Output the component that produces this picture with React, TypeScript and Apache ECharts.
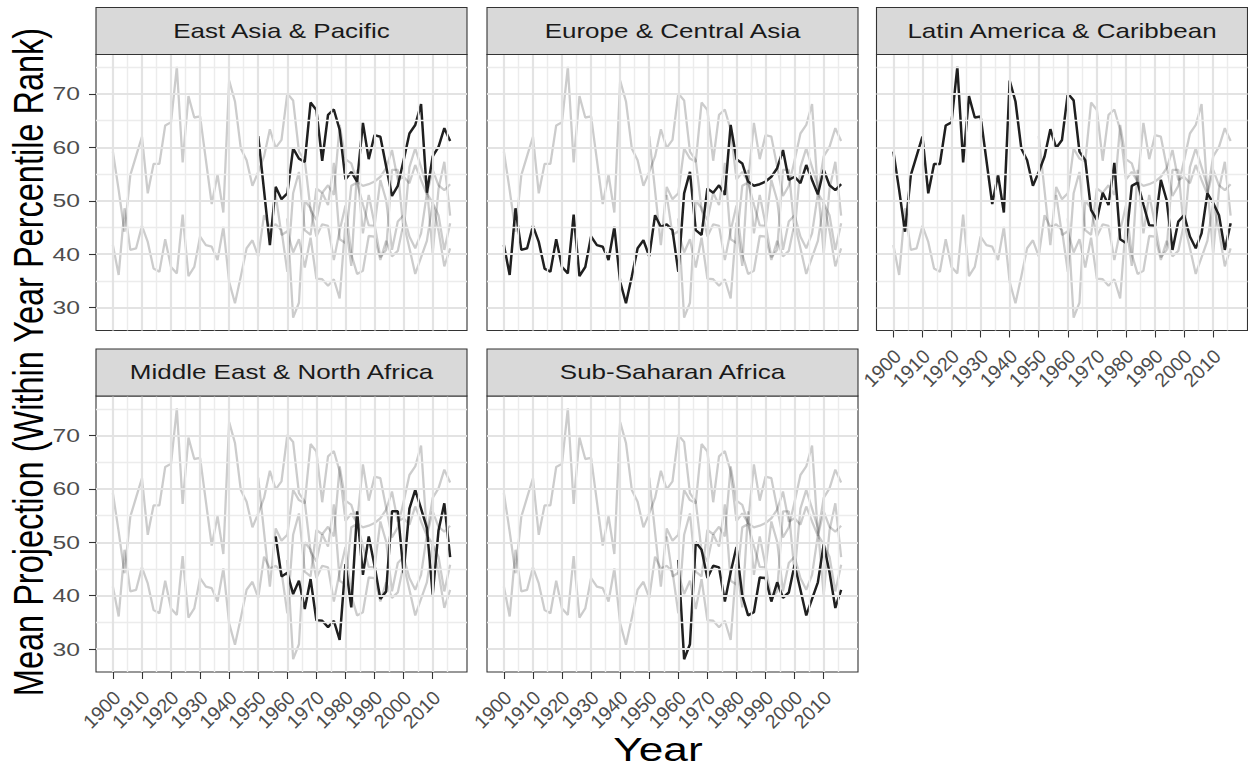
import { useEffect, useRef } from "react";
import * as echarts from "echarts";

// Observation years (every second year)
const years = [
  1900, 1902, 1904, 1906, 1908, 1910, 1912, 1914, 1916, 1918,
  1920, 1922, 1924, 1926, 1928, 1930, 1932, 1934, 1936, 1938,
  1940, 1942, 1944, 1946, 1948, 1950, 1952, 1954, 1956, 1958,
  1960, 1962, 1964, 1966, 1968, 1970, 1972, 1974, 1976, 1978,
  1980, 1982, 1984, 1986, 1988, 1990, 1992, 1994, 1996, 1998,
  2000, 2002, 2004, 2006, 2008, 2010, 2012, 2014, 2016,
];

const regions = [
  "East Asia & Pacific",
  "Europe & Central Asia",
  "Latin America & Caribbean",
  "Middle East & North Africa",
  "Sub-Saharan Africa",
];

// Each series runs up to 2016; shorter series start later.
const eastAsia = [
  62.1, 51.9, 41.7, 52.6, 50.3, 51.4, 59.8, 57.9, 57.3, 68.4,
  67.0, 57.5, 66.1, 67.1, 63.3, 54.0, 55.4, 53.6, 64.6, 57.8,
  62.3, 62.0, 56.4, 50.9, 52.8, 57.6, 62.6, 64.2, 68.1, 51.5,
  58.3, 60.1, 63.6, 61.2,
];
const europe = [
  41.7, 36.1, 48.6, 40.8, 41.1, 45.3, 42.3, 37.3, 36.7, 42.8,
  37.6, 36.4, 47.4, 35.9, 37.6, 43.3, 41.7, 41.4, 38.9, 45.1,
  34.8, 30.8, 35.8, 41.1, 42.6, 39.6, 47.3, 45.1, 45.6, 44.5,
  36.7, 51.4, 55.4, 44.5, 43.6, 52.3, 51.5, 52.9, 51.1, 64.2,
  57.8, 57.0, 53.6, 52.8, 53.1, 53.6, 54.5, 56.1, 59.5, 53.9,
  54.5, 53.3, 56.7, 53.9, 51.2, 55.8, 52.9, 52.0, 53.1,
];
const latinAmerica = [
  59.2, 52.0, 44.2, 54.8, 58.4, 62.0, 51.4, 56.9, 56.9, 64.1,
  64.7, 75.1, 57.2, 69.6, 65.6, 65.8, 57.6, 49.4, 54.9, 47.8,
  72.5, 68.6, 59.8, 57.6, 52.8, 55.4, 58.3, 63.4, 59.9, 61.4,
  70.1, 68.8, 59.2, 57.6, 48.3, 46.4, 51.5, 49.2, 57.1, 42.8,
  42.1, 52.8, 53.4, 49.3, 45.4, 45.3, 53.9, 50.1, 40.8, 46.1,
  47.3, 43.3, 41.1, 43.9, 51.4, 49.6, 47.3, 40.8, 45.8,
];
const middleEast = [
  51.1, 43.6, 44.3, 40.3, 42.8, 37.5, 43.1, 35.4, 35.3, 34.1,
  35.3, 31.7, 45.9, 37.8, 55.8, 43.9, 51.1, 45.6, 39.4, 40.8,
  55.8, 55.8, 44.2, 56.3, 59.8, 56.3, 52.7, 40.2, 52.2, 57.3,
  47.2,
];
const subSaharan = [
  46.7, 28.1, 30.9, 50.0, 48.6, 43.3, 45.6, 45.3, 38.9, 44.4,
  49.1, 40.0, 36.3, 36.9, 43.4, 43.3, 38.9, 42.5, 39.6, 40.6,
  45.8, 41.1, 36.3, 39.4, 42.5, 49.6, 44.4, 37.7, 41.1,
];
const regionValues = [eastAsia, europe, latinAmerica, middleEast, subSaharan];

// Axis breaks
const xMajor = [1900, 1910, 1920, 1930, 1940, 1950, 1960, 1970, 1980, 1990, 2000, 2010];
const xMinor = [1905, 1915, 1925, 1935, 1945, 1955, 1965, 1975, 1985, 1995, 2005, 2015];
const yMajor = [30, 40, 50, 60, 70];
const yMinor = [35, 45, 55, 65, 75];

const X_MIN = 1894.2;
const X_MAX = 2021.8;
const Y_MIN = 25.7;
const Y_MAX = 77.4;

// Facet layout
const COL_LEFT = [96, 487, 876.5];
const ROW_TOP = [54.5, 396];
const PANEL_W = 371;
const PANEL_H = 276;
const STRIP_H = 47;
const TICK_LEN = 7;
// Glyphs are drawn a little wider than tall
const TEXT_STRETCH = 1.3;

const FONT = "'Liberation Sans', Arial, Helvetica, sans-serif";

const toPoints = (vals: number[]) =>
  vals.map((v, i) => [years[years.length - vals.length + i], v]);

const panelPos = (p: number) => {
  const col = p % 3;
  const row = Math.floor(p / 3);
  return {
    left: COL_LEFT[col],
    top: ROW_TOP[row],
    showX: row === 1 || col === 2,
    showY: col === 0,
  };
};

function buildOption() {
  const grids: any[] = [];
  const xAxes: any[] = [];
  const yAxes: any[] = [];
  const series: any[] = [];

  regions.forEach((name, p) => {
    const { left, top, showX, showY } = panelPos(p);

    grids.push({
      left,
      top,
      width: PANEL_W,
      height: PANEL_H,
      show: true,
      backgroundColor: "#ffffff",
      borderColor: "#333333",
      borderWidth: 1.1,
      z: 0,
    });

    xAxes.push({
      type: "value",
      gridIndex: p,
      min: X_MIN,
      max: X_MAX,
      axisLine: { show: false },
      splitLine: { show: false },
      axisTick: {
        show: showX,
        length: TICK_LEN,
        customValues: xMajor,
        lineStyle: { color: "#333333", width: 1.1 },
      },
      axisLabel: { show: false },
    });

    yAxes.push({
      type: "value",
      gridIndex: p,
      min: Y_MIN,
      max: Y_MAX,
      axisLine: { show: false },
      splitLine: { show: false },
      axisTick: {
        show: showY,
        length: TICK_LEN,
        customValues: yMajor,
        lineStyle: { color: "#333333", width: 1.1 },
      },
      axisLabel: { show: false },
    });

    // Panel grid lines drawn on the panel's own scales
    const major = { color: "#e3e3e3", width: 2.2, type: "solid" };
    const minor = { color: "#ececec", width: 1.4, type: "solid" };
    series.push({
      type: "line",
      xAxisIndex: p,
      yAxisIndex: p,
      data: [],
      silent: true,
      z: 1,
      markLine: {
        silent: true,
        symbol: ["none", "none"],
        label: { show: false },
        animation: false,
        data: [
          ...xMinor.map((x) => ({ xAxis: x, lineStyle: minor })),
          ...yMinor.map((y) => ({ yAxis: y, lineStyle: minor })),
          ...xMajor.map((x) => ({ xAxis: x, lineStyle: major })),
          ...yMajor.map((y) => ({ yAxis: y, lineStyle: major })),
        ],
      },
    });

    // Other regions in grey
    regionValues.forEach((vals, r) => {
      if (r === p) return;
      series.push({
        type: "line",
        name: regions[r],
        xAxisIndex: p,
        yAxisIndex: p,
        data: toPoints(vals),
        showSymbol: false,
        symbol: "none",
        silent: true,
        z: 2,
        lineStyle: { color: "rgba(0,0,0,0.2)", width: 2.3 },
      });
    });

    // Highlighted region
    series.push({
      type: "line",
      name,
      xAxisIndex: p,
      yAxisIndex: p,
      data: toPoints(regionValues[p]),
      showSymbol: false,
      symbol: "none",
      silent: true,
      z: 3,
      lineStyle: { color: "#1f1f1f", width: 2.5 },
    });
  });

  return {
    animation: false,
    backgroundColor: "#ffffff",
    grid: grids,
    xAxis: xAxes,
    yAxis: yAxes,
    series,
  };
}

// Strips, titles and tick labels; tick labels are placed with the axes' own scales
function buildGraphics(chart: echarts.ECharts) {
  const graphics: any[] = [];
  const tickColor = "#4d4d4d";

  regions.forEach((name, p) => {
    const { left, top, showX, showY } = panelPos(p);

    graphics.push({
      type: "rect",
      shape: { x: left, y: top - STRIP_H, width: PANEL_W, height: STRIP_H },
      style: { fill: "#d9d9d9", stroke: "#333333", lineWidth: 1.1 },
      z: 10,
    });
    graphics.push({
      type: "text",
      x: left + PANEL_W / 2,
      y: top - STRIP_H / 2,
      scaleX: TEXT_STRETCH,
      style: {
        text: name,
        textAlign: "center",
        textVerticalAlign: "middle",
        fontSize: 20,
        fontFamily: FONT,
        fill: "#1a1a1a",
      },
      z: 11,
    });

    if (showY) {
      yMajor.forEach((v) => {
        const py = chart.convertToPixel({ yAxisIndex: p } as any, v) as number;
        graphics.push({
          type: "text",
          x: left - TICK_LEN - 9,
          y: py,
          scaleX: TEXT_STRETCH,
          style: {
            text: String(v),
            textAlign: "right",
            textVerticalAlign: "middle",
            fontSize: 19,
            fontFamily: FONT,
            fill: tickColor,
          },
        });
      });
    }

    if (showX) {
      xMajor.forEach((v) => {
        const px = chart.convertToPixel({ xAxisIndex: p } as any, v) as number;
        graphics.push({
          type: "text",
          x: px - 3,
          y: top + PANEL_H + TICK_LEN + 8,
          rotation: Math.PI / 4,
          style: {
            text: String(v),
            textAlign: "right",
            textVerticalAlign: "top",
            fontSize: 19.5,
            fontFamily: FONT,
            fill: tickColor,
          },
        });
      });
    }
  });

  graphics.push({
    type: "text",
    x: 28,
    y: 362,
    rotation: Math.PI / 2,
    scaleY: TEXT_STRETCH,
    style: {
      text: "Mean Projection (Within Year Percentile Rank)",
      textAlign: "center",
      textVerticalAlign: "middle",
      fontSize: 32.5,
      fontFamily: FONT,
      fill: "#000000",
    },
  });
  graphics.push({
    type: "text",
    x: 658,
    y: 749,
    scaleX: TEXT_STRETCH,
    style: {
      text: "Year",
      textAlign: "center",
      textVerticalAlign: "middle",
      fontSize: 34,
      fontFamily: FONT,
      fill: "#000000",
    },
  });

  return graphics;
}

export default function App() {
  const ref = useRef<HTMLDivElement>(null);

  useEffect(() => {
    if (!ref.current) return;
    const chart = echarts.init(ref.current, undefined, { renderer: "svg" });
    chart.setOption(buildOption() as any);
    chart.setOption({ graphic: buildGraphics(chart) } as any);
    return () => chart.dispose();
  }, []);

  return (
    <div
      ref={ref}
      style={{ position: "absolute", left: 0, top: 0, width: 1248, height: 768 }}
    />
  );
}
